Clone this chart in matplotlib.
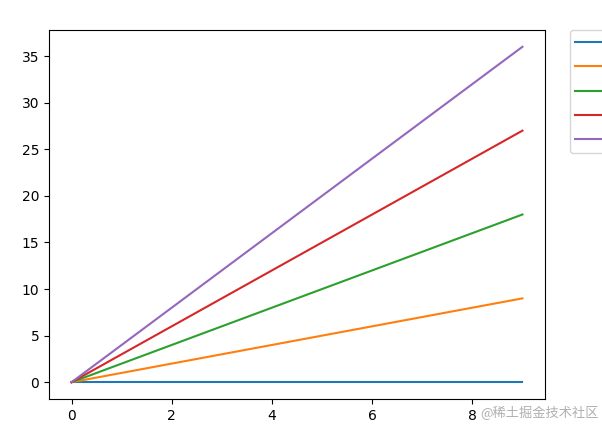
import numpy
from matplotlib import pyplot

pyplot.rcParams['font.family'] = ['DejaVu Sans', 'Noto Sans CJK SC']

# Datos
x = [0, 1, 2, 3, 4, 5, 6, 7, 8, 9]
y0 = [0, 0, 0, 0, 0, 0, 0, 0, 0, 0]
y1 = [0, 1, 2, 3, 4, 5, 6, 7, 8, 9]
y2 = [0, 2, 4, 6, 8, 10, 12, 14, 16, 18]
y3 = [0, 3, 6, 9, 12, 15, 18, 21, 24, 27]
y4 = [0, 4, 8, 12, 16, 20, 24, 28, 32, 36]
series = [y0, y1, y2, y3, y4]

fig = pyplot.figure(figsize=(6.02, 4.28), dpi=100)
ax = fig.add_axes([49 / 602, 1 - 399 / 428, (545 - 49) / 602, (399 - 30) / 428])
lines = []
for y in series:
    lines += ax.plot(x, y)
ax.set_ylim(-1.8, 37.8)
# las etiquetas quedan fuera de la figura, solo se ven las líneas
ax.legend(lines, ['      '] * 5, bbox_to_anchor=(1.05, 1), loc='upper left',
          borderaxespad=0., labelspacing=0.75)

fig.text(0.994, 0.018, '@稀土掘金技术社区', ha='right', va='bottom',
         fontsize=9.5, color='#b0b0b0', family=['Noto Sans CJK SC', 'DejaVu Sans'])
pyplot.savefig('out.png')
pyplot.close()
